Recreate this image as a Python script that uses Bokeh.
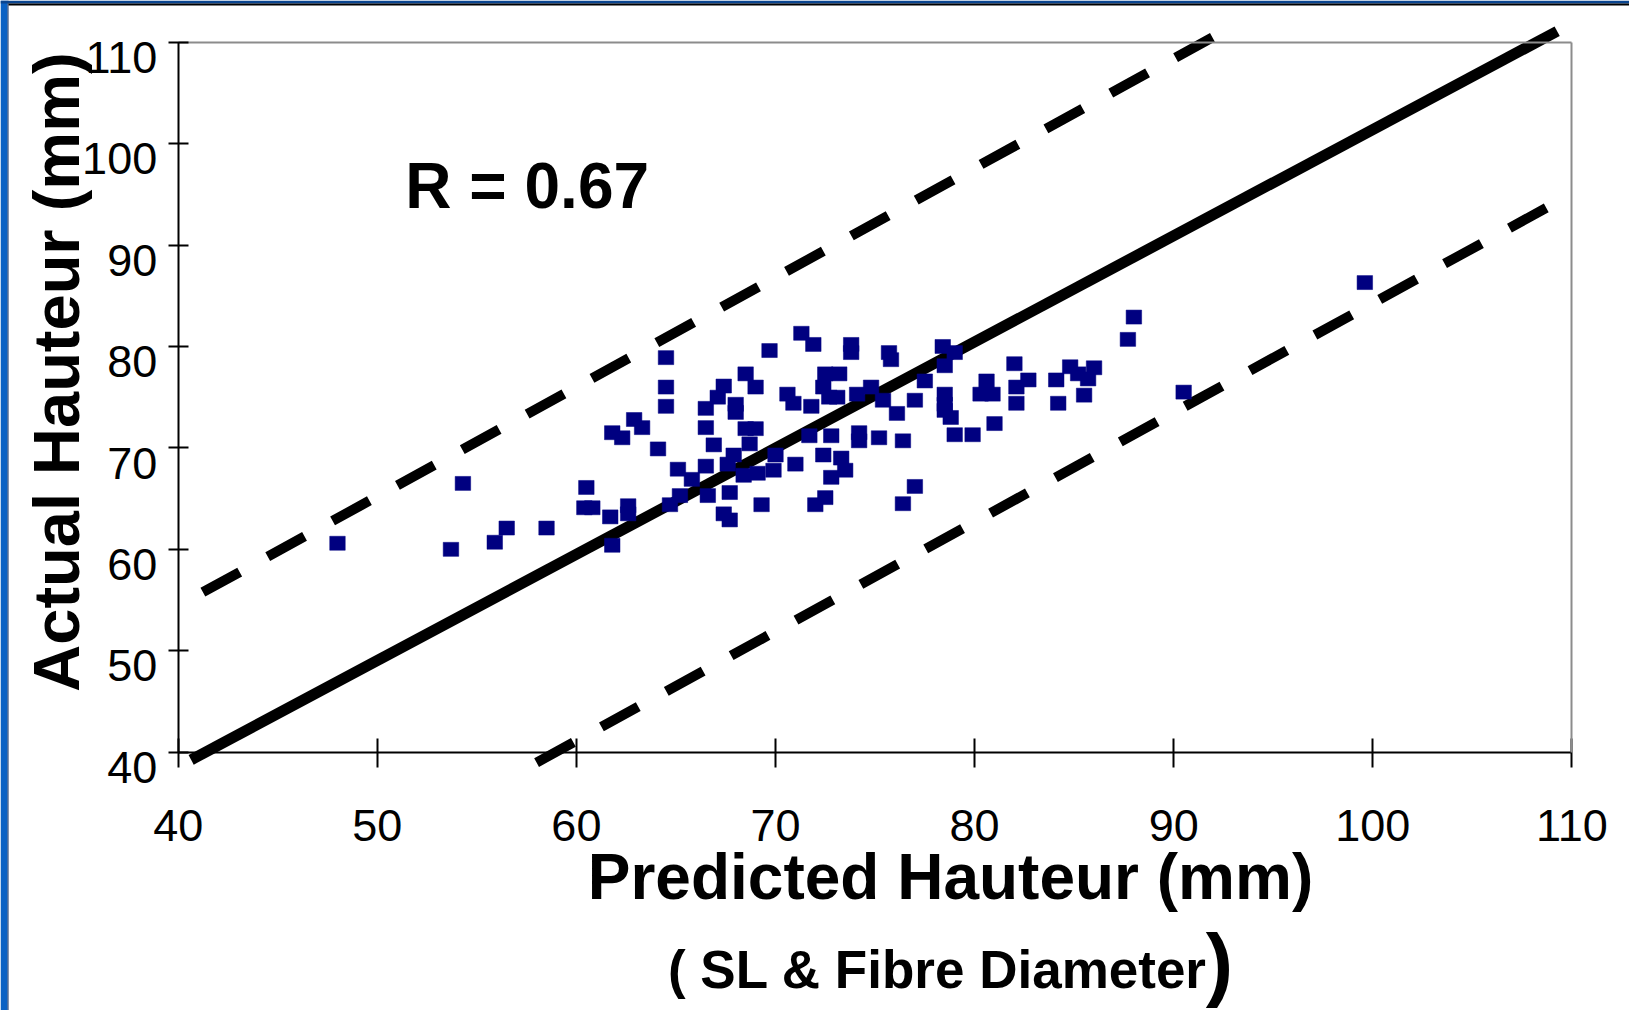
import math
from bokeh.plotting import figure
from bokeh.models import (ColumnDataSource, FixedTicker, Label, LinearAxis, Range1d,
                          BoxAnnotation)
from bokeh.embed import file_html
from bokeh.resources import INLINE

# ---------------- data ----------------
predicted = [48.0, 54.3, 53.7, 56.5, 55.9, 58.5, 60.5, 60.4, 60.8, 61.7,
             61.8, 62.3, 61.8, 62.6, 62.6, 62.9, 63.3, 64.1, 64.5, 64.5,
             64.5, 64.7, 65.1, 65.8, 65.2, 66.5, 66.9, 66.5, 67.1, 67.4,
             68.0, 68.0, 68.5, 69.0, 69.7, 68.5, 69.0, 68.7, 67.9, 66.5,
             67.6, 68.4, 69.1, 70.0, 69.9, 71.0, 67.7, 66.6, 67.4, 67.7,
             69.3, 71.3, 71.9, 70.6, 70.9, 71.8, 72.5, 73.2, 72.4, 72.7,
             73.1, 71.7, 72.8, 72.4, 73.3, 73.5, 72.8, 72.5, 72.0, 73.8,
             73.8, 75.7, 75.8, 74.1, 74.8, 75.4, 74.2, 74.2, 75.2, 76.4,
             77.0, 76.4, 77.0, 76.1, 78.4, 79.0, 78.5, 77.5, 78.5, 78.5,
             78.5, 78.8, 79.0, 79.9, 81.0, 80.6, 80.3, 80.9, 82.0, 82.1,
             82.1, 82.7, 84.1, 84.8, 85.2, 85.7, 86.0, 85.5, 84.2, 87.7,
             88.0, 90.5, 99.6]
actual = [60.6, 66.5, 60.0, 62.1, 60.7, 62.1, 66.1, 64.1, 64.1, 63.2,
          71.5, 71.0, 60.4, 64.3, 63.5, 72.8, 72.0, 69.9, 78.9, 76.0,
          74.1, 64.4, 67.9, 66.9, 65.3, 72.0, 70.3, 73.9, 75.0, 76.1,
          74.3, 73.5, 77.3, 76.0, 79.6, 71.9, 71.9, 70.4, 69.3, 68.2,
          68.4, 67.3, 67.5, 69.3, 67.8, 68.4, 65.6, 65.3, 63.5, 62.9,
          64.4, 81.3, 80.2, 75.3, 74.4, 74.1, 77.3, 77.3, 76.0, 75.0,
          75.0, 71.2, 71.2, 69.3, 69.0, 67.8, 67.1, 65.1, 64.4, 80.2,
          79.4, 79.4, 78.7, 75.3, 76.0, 74.7, 70.7, 71.5, 71.0, 70.7,
          66.2, 64.5, 74.7, 73.4, 80.0, 79.4, 78.1, 76.6, 75.3, 74.3,
          73.7, 73.0, 71.3, 71.3, 72.4, 76.6, 75.3, 75.3, 78.3, 76.0,
          74.4, 76.7, 76.7, 78.0, 77.3, 76.8, 77.9, 75.2, 74.4, 80.7,
          82.9, 75.5, 86.3]

ticks = [40, 50, 60, 70, 80, 90, 100, 110]

# reference lines drawn on the chart (start / end points in data units)
solid_x = [40.65, 109.26]
solid_y = [39.25, 111.08]
upper_x = [41.24, 92.38]
upper_y = [55.77, 110.95]
lower_x = [58.0, 109.2]
lower_y = [38.98, 94.19]

r_text = "R = 0.67"
x_title = "Predicted Hauteur (mm)"
y_title = "Actual Hauteur (mm)"
sub_title = "( SL & Fibre Diameter"
sub_close = ")"

FONT = "Liberation Sans"
LO, HI = 40, 110
X0, X1 = 31.075, 112.893     # visible x extent (whole canvas)
Y0, Y1 = 14.534, 114.110     # visible y extent (whole canvas)
PX_X = 1394 / 70             # pixels per x unit
PX_Y = 710 / 70              # pixels per y unit

# ---------------- figure ----------------
# the frame fills the whole canvas; axes are placed at fixed data locations
p = figure(width=1629, height=1010, output_backend="svg", toolbar_location=None,
           x_range=Range1d(X0, X1), y_range=Range1d(Y0, Y1),
           x_axis_type=None, y_axis_type=None,
           min_border=0, min_border_left=0, min_border_right=0,
           min_border_top=0, min_border_bottom=0)
p.background_fill_color = "white"
p.border_fill_color = "white"
p.outline_line_color = None
# range used only to set the y tick labels just below their ticks
p.extra_y_ranges = {"ylab": Range1d(Y0 + 1.5, Y1 + 1.5)}

# slide frame (blue edge on the left and at the top)
p.add_layout(BoxAnnotation(right=X0 + 7 / PX_X, fill_color="#0b62c4", fill_alpha=1,
                           line_color=None, level="underlay"))
p.add_layout(BoxAnnotation(left=X0 + 7 / PX_X, right=X0 + 8 / PX_X,
                           fill_color="#0a2a60", fill_alpha=1, line_color=None,
                           level="underlay"))
p.add_layout(BoxAnnotation(bottom=Y1 - 3 / PX_Y, fill_color="#0a4590", fill_alpha=1,
                           line_color=None, level="underlay"))
p.add_layout(BoxAnnotation(bottom=Y1 - 5 / PX_Y, top=Y1 - 3 / PX_Y,
                           left=X0 + 8 / PX_X, fill_color="black", fill_alpha=1,
                           line_color=None, level="underlay"))


def style_axis(ax):
    ax.ticker = FixedTicker(ticks=ticks)
    ax.bounds = (LO, HI)
    ax.minor_tick_line_color = None
    ax.major_label_text_font = FONT
    ax.major_label_text_font_size = "45px"
    ax.major_label_text_color = "black"


# plot-area border (grey, top and right)
top_ax = LinearAxis(fixed_location=HI)
style_axis(top_ax)
top_ax.axis_line_color = "#8c8c8c"
top_ax.axis_line_width = 2
top_ax.major_tick_line_color = None
top_ax.major_label_text_color = None
p.add_layout(top_ax, "above")

right_ax = LinearAxis(fixed_location=HI)
style_axis(right_ax)
right_ax.axis_line_color = "#8c8c8c"
right_ax.axis_line_width = 2
right_ax.major_tick_line_color = None
right_ax.major_label_text_color = None
p.add_layout(right_ax, "right")

# x axis
xax = LinearAxis(fixed_location=LO)
style_axis(xax)
xax.axis_line_color = "black"
xax.axis_line_width = 2
xax.major_tick_line_color = "black"
xax.major_tick_line_width = 2
xax.major_tick_in = 14
xax.major_tick_out = 15
xax.major_label_standoff = 43
p.add_layout(xax, "below")

# y axis (line and ticks)
yax = LinearAxis(fixed_location=LO)
style_axis(yax)
yax.axis_line_color = "black"
yax.axis_line_width = 2
yax.major_tick_line_color = "black"
yax.major_tick_line_width = 2
yax.major_tick_in = 10
yax.major_tick_out = 10
yax.major_label_text_color = None
p.add_layout(yax, "left")

# y axis tick labels (set just below each tick, as in the original)
ylab = LinearAxis(fixed_location=LO, y_range_name="ylab")
style_axis(ylab)
ylab.axis_line_color = None
ylab.major_tick_line_color = None
ylab.major_tick_in = 0
ylab.major_tick_out = 0
ylab.major_label_standoff = 21
p.add_layout(ylab, "left")

# reference lines
p.line(solid_x, solid_y, line_color="black", line_width=11, line_cap="butt")
p.line(upper_x, upper_y, line_color="black", line_width=10, line_cap="butt",
       line_dash="42 32")
p.line(lower_x, lower_y, line_color="black", line_width=10, line_cap="butt",
       line_dash="42 32")

# points
src = ColumnDataSource(data=dict(x=predicted, y=actual))
p.rect(x="x", y="y", width=15.5, height=14, width_units="screen",
       height_units="screen", source=src, fill_color="#000080",
       line_color="#000080", line_width=0.5)

# texts
p.add_layout(Label(x=51.41, y=95.79, text=r_text, text_font=FONT,
                   text_font_size="64px", text_font_style="bold", text_color="black",
                   text_align="left", text_baseline="middle"))
p.add_layout(Label(x=33.87, y=77.48, text=y_title, angle=math.pi / 2,
                   text_font=FONT, text_font_size="65px", text_font_style="bold",
                   text_color="black", text_align="center", text_baseline="middle"))
p.add_layout(Label(x=78.79, y=27.67, text=x_title, text_font=FONT,
                   text_font_size="64px", text_font_style="bold", text_color="black",
                   text_align="center", text_baseline="middle"))
p.add_layout(Label(x=64.6, y=18.55, text=sub_title, text_font=FONT,
                   text_font_size="53px", text_font_style="bold", text_color="black",
                   text_align="left", text_baseline="middle"))
p.add_layout(Label(x=91.61, y=19.25, text=sub_close, text_font=FONT,
                   text_font_size="82px", text_font_style="bold", text_color="black",
                   text_align="left", text_baseline="middle"))

open("out.html", "w").write(file_html(p, INLINE))
